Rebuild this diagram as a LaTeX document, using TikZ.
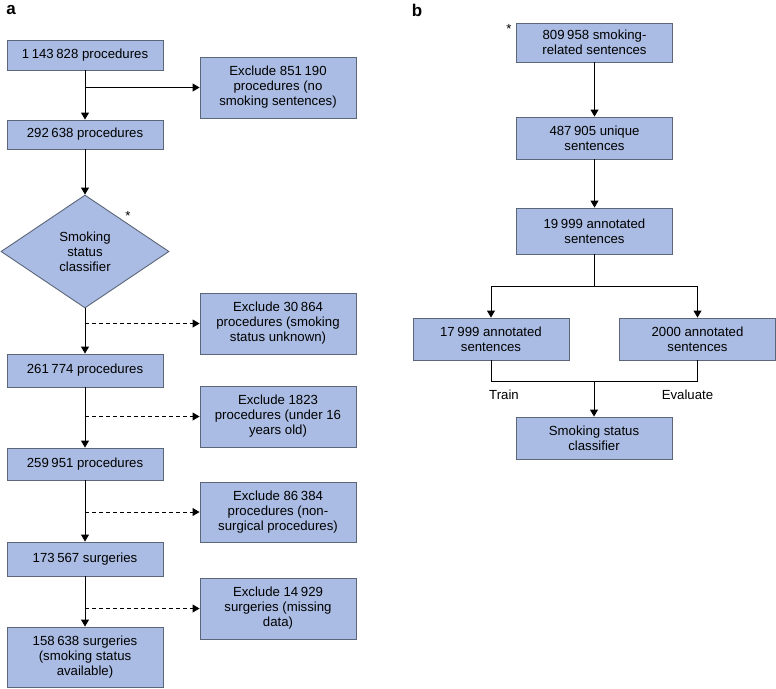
\documentclass[tikz,border=0pt]{standalone}
\usepackage{fontspec}
\setmainfont{Liberation Sans}
\usetikzlibrary{shapes.geometric,arrows.meta}
\definecolor{boxfill}{HTML}{AABCE3}
\definecolor{boxline}{HTML}{5C6679}
\newcommand{\ns}{\kern2.6pt}
\begin{document}
\begin{tikzpicture}[x=1pt,y=-1pt,
  every node/.style={font=\fontsize{13.2}{15}\selectfont, align=center, inner sep=0pt},
  box/.style={draw=boxline, fill=boxfill, line width=0.9pt, minimum width=156pt},
  dia/.style={diamond, draw=boxline, fill=boxfill, line width=0.9pt, minimum width=168pt, minimum height=113pt},
  conn/.style={line width=0.9pt, -{Triangle[length=7pt,width=8pt]}},
  dconn/.style={conn, dash pattern=on 4pt off 3pt},
  plain/.style={line width=0.9pt},
  lab/.style={font=\fontsize{17}{20}\selectfont\bfseries}]
\useasboundingbox (0,0) rectangle (776,688);
% panel labels
\node[lab] (la) at (11,10) {a};
\node[lab] (lb) at (417,10) {b};
% panel a
\node[box, minimum height=30pt] (a1) at (85,55) {1\ns143\ns828 procedures};
\node[box, minimum height=61pt] (e1) at (278,87.5) {Exclude 851\ns190\\procedures (no\\smoking sentences)};
\node[box, minimum height=29pt] (a2) at (85,134.5) {292\ns638 procedures};
\node[dia] (d) at (85,251.5) {Smoking\\status\\classifier};
\node (sa) at (128,216) {*};
\node[box, minimum height=61pt] (e2) at (278,323.5) {Exclude 30\ns864\\procedures (smoking\\status unknown)};
\node[box, minimum height=33pt] (a3) at (85,370.5) {261\ns774 procedures};
\node[box, minimum height=61pt] (e3) at (278,416.5) {Exclude 1823\\procedures (under 16\\years old)};
\node[box, minimum height=32pt] (a4) at (85,464) {259\ns951 procedures};
\node[box, minimum height=60pt] (e4) at (278,512) {Exclude 86\ns384\\procedures (non-\\surgical procedures)};
\node[box, minimum height=34pt] (a5) at (85,559) {173\ns567 surgeries};
\node[box, minimum height=61pt] (e5) at (278,608.5) {Exclude 14\ns929\\surgeries (missing\\data)};
\node[box, minimum height=60pt] (a6) at (85,657) {158\ns638 surgeries\\(smoking status\\available)};
\draw[conn] (a1) -- (a2);
\draw[conn] (a1.south |- e1.west) -- (e1.west);
\draw[conn] (a2) -- (d.north);
\draw[conn] (d.south) -- (a3);
\draw[dconn] (d.south |- e2.west) -- (e2.west);
\draw[conn] (a3) -- (a4);
\draw[dconn] (a3.south |- e3.west) -- (e3.west);
\draw[conn] (a4) -- (a5);
\draw[dconn] (a4.south |- e4.west) -- (e4.west);
\draw[conn] (a5) -- (a6);
\draw[dconn] (a5.south |- e5.west) -- (e5.west);
% panel b
\node[box, minimum height=39pt] (b1) at (594.5,42.5) {809\ns958 smoking-\\related sentences};
\node (sb) at (509,29) {*};
\node[box, minimum height=42pt] (b2) at (594.5,138) {487\ns905 unique\\sentences};
\node[box, minimum height=46pt] (b3) at (594.5,231) {19\ns999 annotated\\sentences};
\node[box, minimum height=42pt] (b4) at (491,339) {17\ns999 annotated\\sentences};
\node[box, minimum height=42pt] (b5) at (697.5,339) {2000 annotated\\sentences};
\node[box, minimum height=42pt] (b6) at (594,438) {Smoking status\\classifier};
\coordinate (split) at (594.5,286);
\coordinate (join) at (594,381);
\node (tr) at (504,395) {Train};
\node (ev) at (687.5,395) {Evaluate};
\draw[conn] (b1) -- (b2);
\draw[conn] (b2) -- (b3);
\draw[plain] (b3) -- (split);
\draw[conn] (split) -| (b4.north);
\draw[conn] (split) -| (b5.north);
\draw[plain] (b4.south) |- (join);
\draw[plain] (b5.south) |- (join);
\draw[conn] (join) -- (b6.north);
\end{tikzpicture}
\end{document}
